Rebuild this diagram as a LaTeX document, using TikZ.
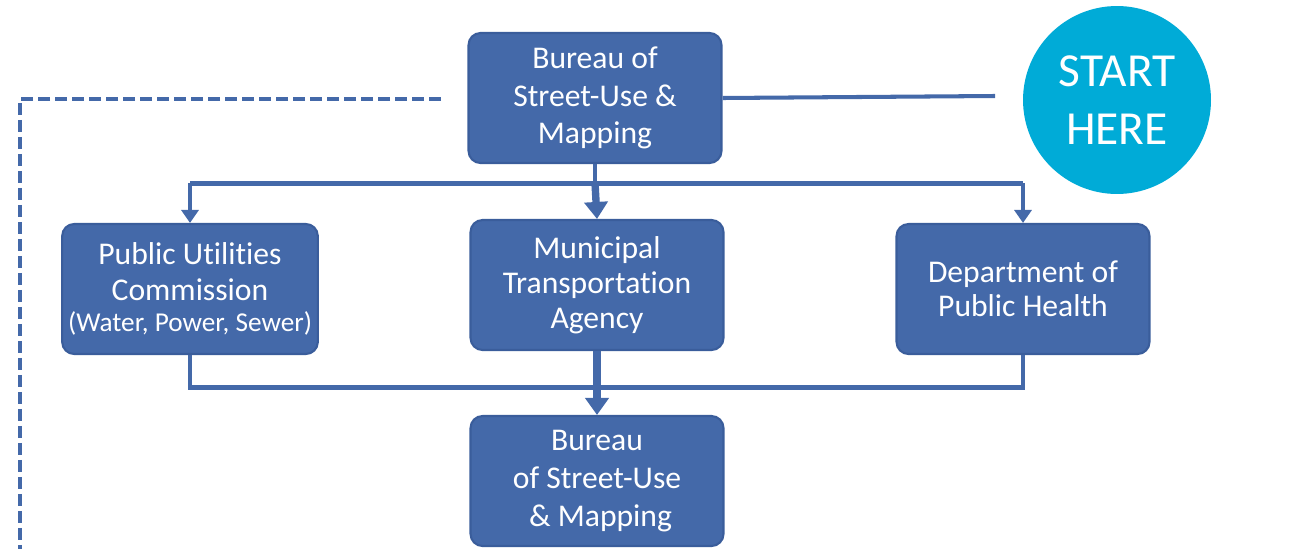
\documentclass[tikz,border=0pt]{standalone}
\usepackage{fontspec}
\setmainfont{Carlito}[Ligatures=NoCommon]
\usetikzlibrary{arrows.meta}
\definecolor{boxblue}{HTML}{4469A9}
\definecolor{edgeblue}{HTML}{3A5D9B}
\definecolor{startcyan}{HTML}{00ABD7}

\begin{document}
\begin{tikzpicture}[x=0.02cm,y=-0.02cm,
  agency/.style={draw=edgeblue,line width=1.2pt,fill=boxblue,rounded corners=0.24cm,
    minimum width=5.06cm,minimum height=2.6cm,text=white,align=center,
    font=\fontsize{18}{20.5}\selectfont},
  flow/.style={draw=boxblue,line width=2.8pt},
  sidearrow/.style={-{Triangle[width=0.34cm,length=0.26cm]}},
  mainarrow/.style={line width=4.2pt,-{Triangle[width=0.46cm,length=0.34cm]}},
  feedback/.style={draw=boxblue,line width=2.3pt,dash pattern=on 0.24cm off 0.1cm}]
\useasboundingbox (0,0) rectangle (1307,548);

% Start circle
\node[circle,fill=startcyan,minimum size=3.76cm,text=white,align=center,
  font=\fontsize{27}{33}\selectfont] (start) at (1117,100) {START\\HERE};

% Agencies
\node[agency,font=\fontsize{18}{21.5}\selectfont] (bsm) at (595,98)
  {Bureau of\\Street-Use \&\\Mapping};
\node[agency] (puc) at (190,289) {Public Utilities\\Commission\\[-3pt]
  {\fontsize{15.5}{18}\selectfont (Water, Power, Sewer)}};
\node[agency,font=\fontsize{18}{20}\selectfont] (mta) at (597,285)
  {Municipal\\Transportation\\Agency};
\node[agency,font=\fontsize{18}{19.5}\selectfont] (dph) at (1023,289)
  {Department of\\Public Health};
\node[agency,font=\fontsize{18}{21.5}\selectfont] (bsmend) at (597,481)
  {Bureau\\of Street-Use\\\ \& Mapping};

% Link towards start
\coordinate (startlink) at (995,96);
\draw[flow,line width=2.3pt] (bsm.east) -- (startlink);

% Feedback loop
\coordinate (loopstart) at (441,99);
\coordinate (loopcorner) at (20,99);
\coordinate (loopend) at (20,560);
\draw[feedback] (loopstart) -- (loopcorner) -- (loopend);

% Split to the three agencies
\draw[flow] (bsm.south) -- ++(0,19) coordinate (split);
\draw[flow] (puc.north |- split) -- (dph.north |- split);
\foreach \agency in {puc,dph}
  \draw[flow,sidearrow] (\agency.north |- split) -- (\agency.north);
\draw[flow,mainarrow] (split) -- (mta.north);

% Merge back
\draw[flow] (puc.south) -- ++(0,32) coordinate (merge) -| (dph.south);
\draw[flow,mainarrow] (mta.south) -- (bsmend.north);
\end{tikzpicture}
\end{document}
